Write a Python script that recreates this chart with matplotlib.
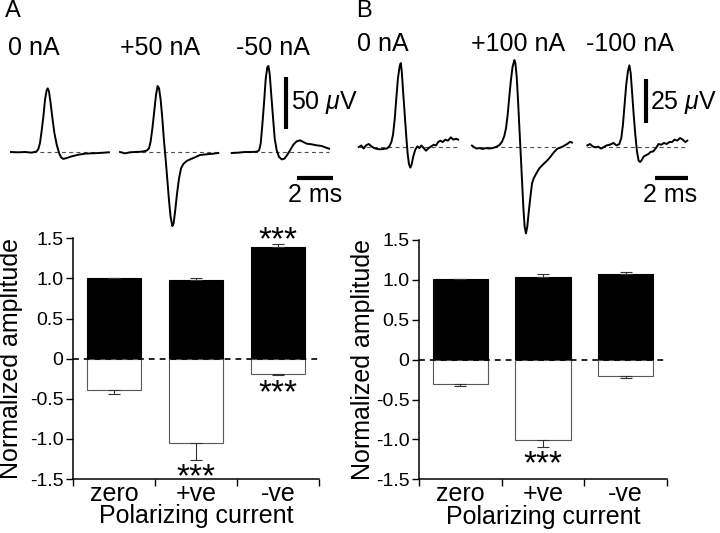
import matplotlib
matplotlib.use("Agg")
import matplotlib.pyplot as plt

plt.rcParams['font.family'] = ['Liberation Sans', 'DejaVu Sans']
plt.rcParams['mathtext.fontset'] = 'custom'
plt.rcParams['mathtext.rm'] = 'Liberation Sans'
plt.rcParams['mathtext.it'] = 'Liberation Sans:italic'

# ---- field potential traces (time in ms, amplitude in uV) ----
a0_t = [0, 0.41, 0.78, 1.15, 1.43, 1.52, 1.61, 1.70, 1.80, 1.89, 1.98, 2.04, 2.11, 2.20,
        2.30, 2.41, 2.54, 2.67, 2.78, 2.91, 3.09, 3.37, 3.74, 4.11, 4.48, 4.85, 5.22, 5.44]
a0_v = [0, -0.3, 0, -0.6, 0.6, 2.9, 8.7, 19.9, 34.3, 50.3, 59.3, 61.2, 58.3, 47.1,
        32.7, 18.3, 7.1, -1.0, -5.1, -6.7, -5.8, -4.2, -2.6, -1.6, -1.3, -1.0, -0.6, -0.3]

a50_t = [0, 0.28, 0.56, 0.83, 1.20, 1.48, 1.61, 1.70, 1.80, 1.91, 2.00, 2.09, 2.17, 2.26,
         2.35, 2.44, 2.54, 2.63, 2.72, 2.81, 2.91, 2.98, 3.07, 3.17, 3.28, 3.39, 3.52,
         3.70, 3.94, 4.17, 4.44, 4.81, 5.19, 5.46]
a50_v = [0, -1.3, -0.3, 0, 0.3, 1.3, 3.5, 9.9, 22.8, 40.4, 54.8, 63.5, 61.2, 50.0,
         32.4, 11.5, -7.7, -26.9, -46.2, -62.2, -71.2, -68.6, -55.8, -39.7, -25.3, -15.7, -11.5,
         -8.7, -6.7, -5.1, -2.9, -2.2, -1.6, -1.0]

am50_t = [0, 0.37, 0.74, 1.11, 1.39, 1.52, 1.61, 1.70, 1.80, 1.89, 1.98, 2.04, 2.11, 2.20,
          2.30, 2.39, 2.50, 2.63, 2.78, 2.93, 3.07, 3.24, 3.43, 3.61, 3.80, 3.98, 4.17,
          4.44, 4.72, 5.00, 5.19, 5.41]
am50_v = [-1.0, -0.6, 0, 0, 0.3, 1.6, 8.0, 25.6, 48.1, 70.5, 81.7, 82.7, 75.3, 54.5,
          32.1, 12.8, 1.6, -4.8, -7.1, -6.4, -3.2, 1.6, 7.1, 10.3, 11.2, 9.6, 8.0,
          7.4, 6.4, 5.8, 4.5, 3.2]

b0_t = [0, 0.16, 0.30, 0.44, 0.61, 0.77, 0.93, 1.11, 1.31, 1.52, 1.72, 1.86, 1.98, 2.08,
        2.18, 2.28, 2.38, 2.48, 2.55, 2.61, 2.69, 2.79, 2.89, 2.97, 3.05, 3.13, 3.21, 3.31,
        3.43, 3.56, 3.68, 3.80, 3.94, 4.08, 4.24, 4.40, 4.55, 4.69, 4.81, 4.95, 5.09, 5.25,
        5.41, 5.58, 5.74, 5.90, 6.02]
b0_v = [0, 0.9, -0.9, 0.9, 1.7, 0.4, -0.6, -1.1, -1.3, -1.1, -0.8, 0.4, 2.8, 7.0,
        15.5, 27.8, 39.2, 45.8, 47.7, 43.0, 31.6, 18.4, 5.1, -4.2, -9.9, -11.7, -9.9, -5.3,
        -1.5, 0.4, -0.6, 0.9, -0.6, -2.1, -0.6, 0.4, 1.3, 0.9, 2.8, 3.6, 2.8, 4.2,
        3.6, 5.5, 4.2, 4.7, 4.2]

b100_t = [0, 0.14, 0.28, 0.44, 0.65, 0.85, 1.05, 1.25, 1.45, 1.66, 1.82, 1.96, 2.06, 2.16,
          2.26, 2.36, 2.46, 2.57, 2.63, 2.71, 2.79, 2.87, 2.95, 3.03, 3.11, 3.19, 3.27, 3.35,
          3.43, 3.54, 3.64, 3.74, 3.88, 4.08, 4.32, 4.59, 4.79, 4.99, 5.19, 5.39, 5.60, 5.80,
          5.94, 6.06]
b100_v = [0.8, -0.2, -0.9, -0.6, -1.1, -0.6, -0.9, -0.6, 0, 1.1, 3.0, 6.3, 10.6, 18.2,
          28.6, 38.1, 45.6, 49.4, 47.5, 39.8, 26.5, 11.4, -3.6, -18.8, -33.9, -45.3, -49.1, -45.3,
          -37.7, -28.2, -20.6, -17.8, -15.3, -12.1, -9.8, -7.4, -5.1, -2.7, -0.9, -0.2, 0.8, 1.9,
          3.0, 2.5]

bm100_t = [0, 0.16, 0.32, 0.48, 0.67, 0.83, 1.01, 1.17, 1.37, 1.58, 1.78, 1.94, 2.06, 2.16,
           2.26, 2.36, 2.46, 2.55, 2.63, 2.71, 2.81, 2.91, 3.01, 3.11, 3.21, 3.31, 3.43, 3.56,
           3.70, 3.84, 4.00, 4.16, 4.32, 4.48, 4.65, 4.81, 4.97, 5.13, 5.29, 5.45, 5.62, 5.78,
           5.94, 6.06]
bm100_v = [0.9, 1.7, 0.4, -0.2, 0.2, -0.9, 0, 0.9, 1.3, 2.3, 0.9, 1.7, 5.1, 12.7,
           24.1, 35.4, 43.0, 46.4, 42.0, 31.6, 18.4, 7.0, -2.5, -7.8, -8.5, -7.2, -5.3, -4.7,
           -4.0, -2.8, -2.5, -0.6, 1.7, 1.3, 2.3, 1.7, 2.8, 2.8, 4.2, 3.6, 5.1, 4.2,
           2.8, 3.6]

a_labels = ['0 nA', '+50 nA', '-50 nA']
b_labels = ['0 nA', '+100 nA', '-100 nA']

# ---- normalized amplitudes ----
categories = ['zero', '+ve', '-ve']
ytick_vals = [1.5, 1.0, 0.5, 0, -0.5, -1.0, -1.5]
ytick_labels = ['1.5', '1.0', '0.5', '0', '-0.5', '-1.0', '-1.5']

a_pos = [1.01, 0.98, 1.395]
a_pos_err = [0.0, 0.02, 0.04]
a_neg = [-0.395, -1.05, -0.19]
a_neg_err = [0.05, 0.21, 0.02]
a_pos_sig = ['', '', '***']
a_neg_sig = ['', '***', '***']

b_pos = [1.005, 1.04, 1.075]
b_pos_err = [0.0, 0.04, 0.03]
b_neg = [-0.30, -1.01, -0.20]
b_neg_err = [0.025, 0.09, 0.033]
b_pos_sig = ['', '', '']
b_neg_sig = ['', '***', '']

W, H = 720, 533
fig = plt.figure(figsize=(7.2, 5.33), dpi=100)


def px_axes(left, top, right, bottom):
    return fig.add_axes([left / W, 1 - bottom / H, (right - left) / W, (bottom - top) / H])


def fig_text(x, y, s, **kw):
    fig.text(x / W, 1 - y / H, s, **kw)


def draw_traces(traces, starts, baseline, ms_px, uv_px, xlim, ylim):
    axes = []
    for (t, v), s in zip(traces, starts):
        ax = px_axes(s + xlim[0] * ms_px, baseline - ylim[1] * uv_px,
                     s + xlim[1] * ms_px, baseline - ylim[0] * uv_px)
        ax.set_xlim(xlim)
        ax.set_ylim(ylim)
        ax.plot([t[0], t[-1]], [0, 0], color='0.3', lw=0.8, ls=(0, (3.5, 3)))
        ax.plot(t, v, color='k', lw=1.4)
        ax.axis('off')
        axes.append(ax)
    return axes


def draw_bars(ax, pos, pos_err, neg, neg_err, pos_sig, neg_sig):
    x = [1, 2, 3]
    ax.bar(x, pos, width=0.67, color='k', edgecolor='k', lw=0.8, zorder=2)
    ax.bar(x, neg, width=0.67, color='white', edgecolor='0.35', lw=0.8, zorder=2)
    ax.errorbar(x, pos, yerr=[[0, 0, 0], pos_err], fmt='none', ecolor='0.2',
                elinewidth=0.8, capsize=4, capthick=0.8, zorder=3)
    ax.errorbar(x, neg, yerr=[neg_err, [0, 0, 0]], fmt='none', ecolor='0.2',
                elinewidth=0.8, capsize=4, capthick=0.8, zorder=3)
    ax.axhline(0, color='k', lw=1.2, ls=(0, (3.5, 3)), zorder=4)
    for xi, p, e, s in zip(x, pos, pos_err, pos_sig):
        if s:
            ax.text(xi, p + e - 0.07, s, ha='center', va='baseline', fontsize=24)
    for xi, n, e, s in zip(x, neg, neg_err, neg_sig):
        if s:
            ax.text(xi, n - e - 0.33, s, ha='center', va='baseline', fontsize=24)

    ax.set_xlim(0.5, 3.5)
    ax.set_ylim(-1.5, 1.5)
    ax.set_yticks(ytick_vals)
    ax.set_yticklabels(ytick_labels, fontsize=14)
    ax.set_xticks([0.5, 1.5, 2.5, 3.5])
    ax.set_xticklabels([])
    ax.set_xticks(x, minor=True)
    ax.set_xticklabels(categories, minor=True, fontsize=18)
    ax.tick_params(axis='both', which='major', direction='out', length=5, width=1, pad=2)
    ax.tick_params(axis='x', which='minor', length=0, pad=2)
    for side in ['top', 'right']:
        ax.spines[side].set_visible(False)
    for side in ['left', 'bottom']:
        ax.spines[side].set_linewidth(1.1)
    ax.set_xlabel('Polarizing current', fontsize=18, labelpad=-1)
    ax.set_ylabel('Normalized amplitude', fontsize=18)
    ax.patch.set_alpha(0)


# panel A traces
a_axes = draw_traces([(a0_t, a0_v), (a50_t, a50_v), (am50_t, am50_v)],
                     [11, 120, 231.7], 152, 18, 1.04, (-0.1, 6.2), (-75, 90))
sa = a_axes[2]
sa.plot([3.02, 3.02], [22, 72], color='k', lw=3, solid_capstyle='butt', clip_on=False)
sa.plot([3.63, 5.63], [-25, -25], color='k', lw=3, solid_capstyle='butt', clip_on=False)

# panel B traces
b_axes = draw_traces([(b0_t, b0_v), (b100_t, b100_v), (bm100_t, bm100_v)],
                     [358.7, 472, 587.3], 147, 16.5, 1.76, (-0.1, 6.3), (-55, 52))
sb = b_axes[2]
sb.plot([3.56, 3.56], [13.6, 38.6], color='k', lw=3, solid_capstyle='butt', clip_on=False)
sb.plot([4.10, 6.10], [-17.6, -17.6], color='k', lw=3, solid_capstyle='butt', clip_on=False)

# text labels for traces
fig_text(5, 11, 'A', fontsize=17, va='center')
fig_text(356, 11, 'B', fontsize=17, va='center')
for lab, x in zip(a_labels, [8, 120, 236]):
    fig_text(x, 48, lab, fontsize=18, va='center')
for lab, x in zip(b_labels, [357, 471, 586]):
    fig_text(x, 44, lab, fontsize=18, va='center')
fig_text(291, 103, r'50 $\mathit{\mu}$V', fontsize=18, va='center')
fig_text(315, 195, '2 ms', fontsize=18, va='center', ha='center')
fig_text(650, 102, r'25 $\mathit{\mu}$V', fontsize=18, va='center')
fig_text(670, 195, '2 ms', fontsize=18, va='center', ha='center')

# bar charts
ax_a = px_axes(73, 238.3, 319, 479)
draw_bars(ax_a, a_pos, a_pos_err, a_neg, a_neg_err, a_pos_sig, a_neg_sig)
ax_a.yaxis.set_label_coords(-0.203, 0.5)

ax_b = px_axes(419, 240, 667, 479.3)
draw_bars(ax_b, b_pos, b_pos_err, b_neg, b_neg_err, b_pos_sig, b_neg_sig)
ax_b.yaxis.set_label_coords(-0.177, 0.5)

fig.savefig('out.png', dpi=100)
